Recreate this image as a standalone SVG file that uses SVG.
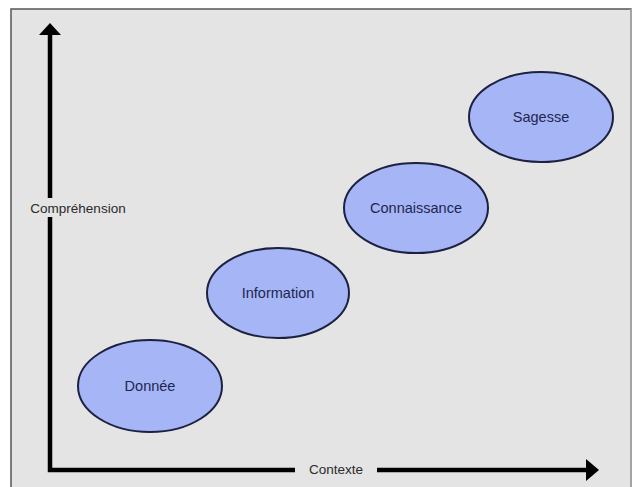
<svg xmlns="http://www.w3.org/2000/svg" width="634" height="487" viewBox="0 0 634 487">
<style>
.node ellipse{fill:#a5b5f5;stroke:#1c2140;stroke-width:2}
.node text{font-family:"Liberation Sans",Arial,sans-serif;font-size:14.5px;fill:#1f2650;text-anchor:middle}
.axis{stroke:#000;stroke-width:4.5;fill:none}
.head{fill:#000}
.lbl{font-family:"Liberation Sans",Arial,sans-serif;font-size:13.5px;fill:#2a2a2a;text-anchor:middle}
</style>
<rect x="0" y="0" width="634" height="487" fill="#ffffff"/>
<rect x="11" y="9" width="620" height="484" fill="#e4e4e4" stroke="#555" stroke-width="1.5"/>
<line x1="631" y1="9" x2="631" y2="487" stroke="#b0b0b0" stroke-width="1.5"/>
<g id="connectors">
<path class="axis" d="M50,34 V198 M50,217 V470 H295 M377,470 H588"/>
<polygon class="head" points="50,23 61,35 39,35"/>
<polygon class="head" points="599,470 586,459 586,481"/>
<text class="lbl" x="78" y="213">Compréhension</text>
<text class="lbl" x="336" y="474">Contexte</text>
</g>
<g id="donnee" class="node"><ellipse cx="150" cy="386" rx="72" ry="46"/><text x="150" y="391">Donnée</text></g>
<g id="information" class="node"><ellipse cx="278" cy="293" rx="71" ry="45"/><text x="278" y="298">Information</text></g>
<g id="connaissance" class="node"><ellipse cx="416" cy="208" rx="72" ry="45"/><text x="416" y="213">Connaissance</text></g>
<g id="sagesse" class="node"><ellipse cx="541" cy="117" rx="72" ry="45"/><text x="541" y="122">Sagesse</text></g>
</svg>
